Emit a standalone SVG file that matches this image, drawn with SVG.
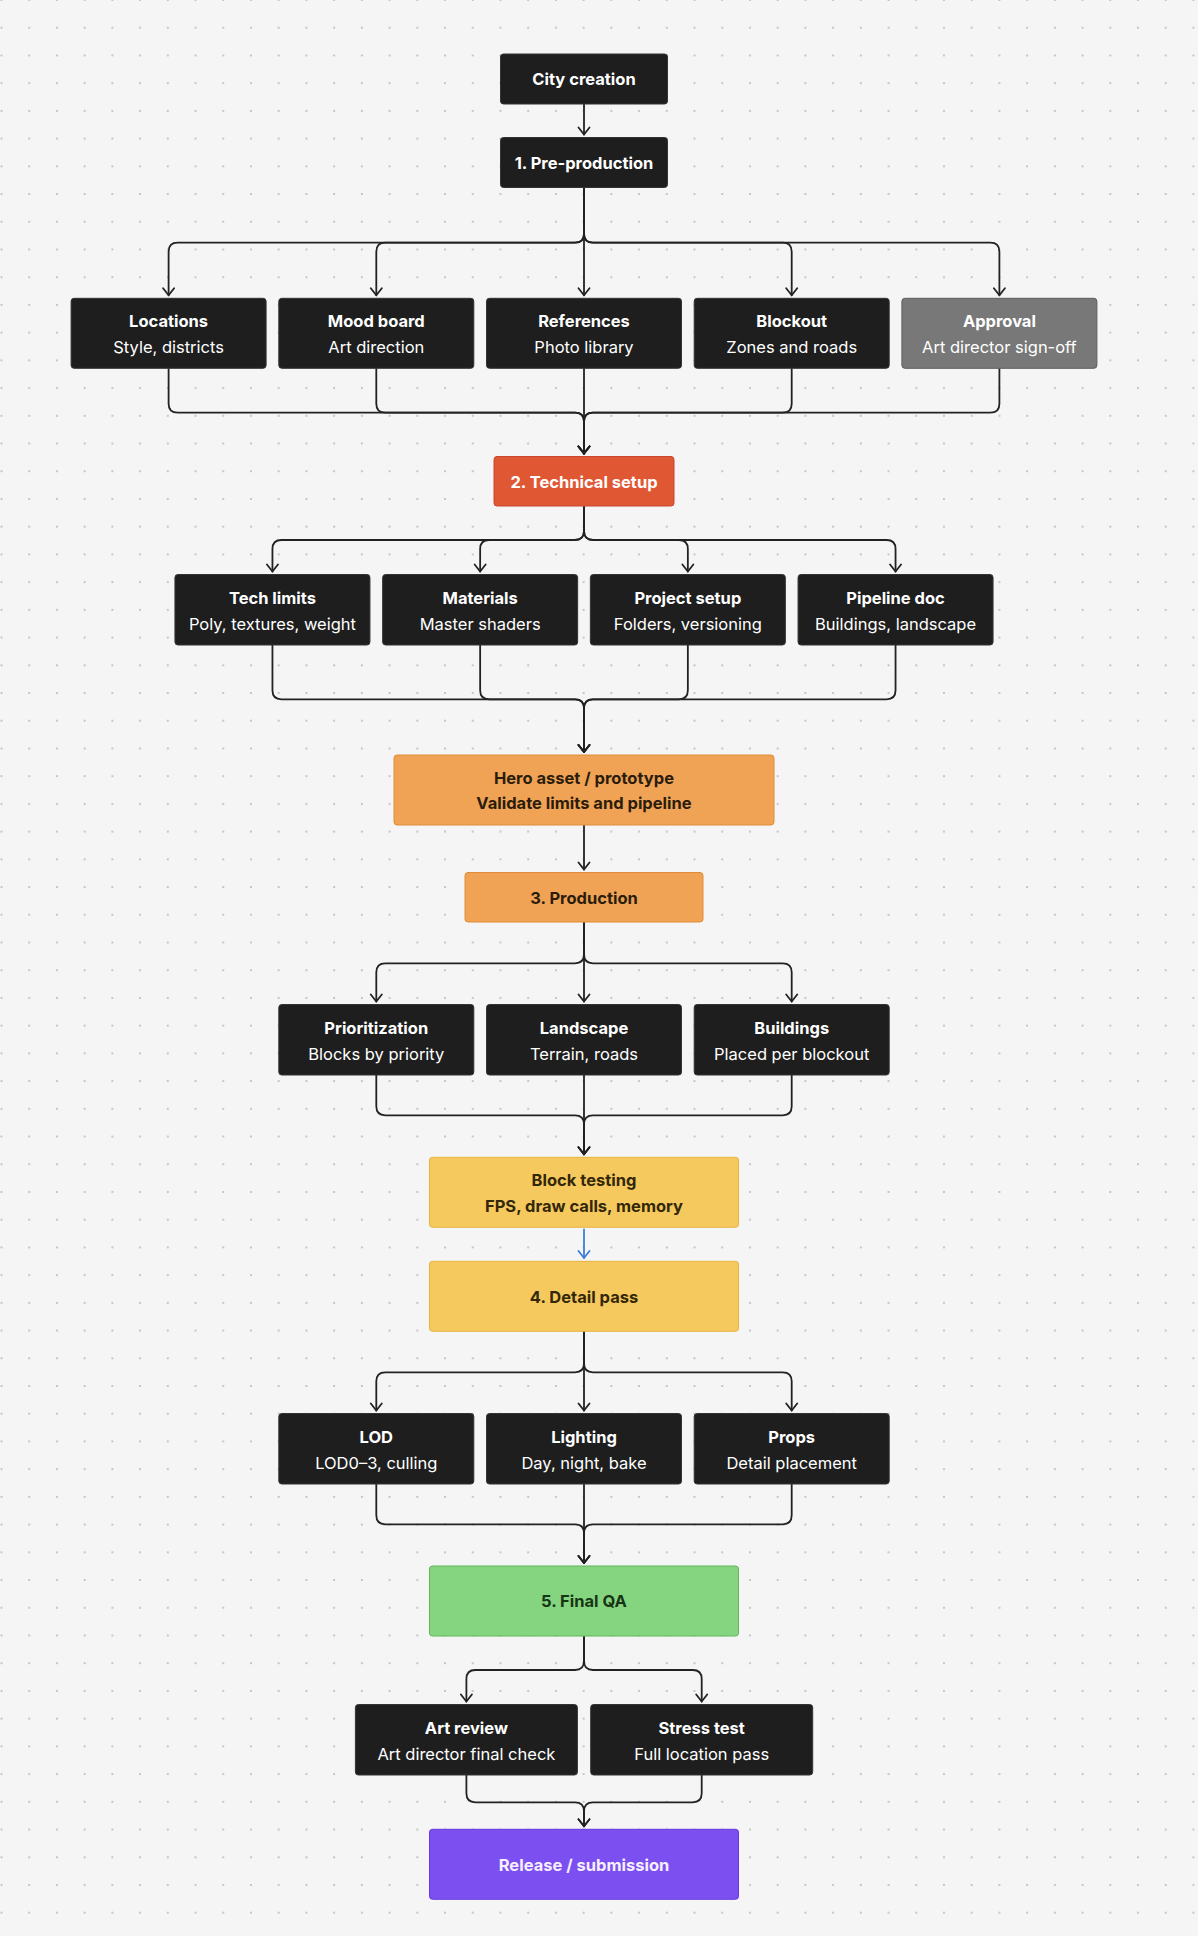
<svg xmlns="http://www.w3.org/2000/svg" width="1198" height="1936" viewBox="0 0 1198 1936">
<defs>
<pattern id="dots" x="-12.35" y="-13.86" width="27.72" height="27.72" patternUnits="userSpaceOnUse">
<circle cx="13.86" cy="13.86" r="1.1" fill="#bcbcbc"/>
</pattern>
<marker id="arr" viewBox="-9 -7 11 14" refX="0" refY="0" markerWidth="11" markerHeight="14" orient="auto" markerUnits="userSpaceOnUse">
<path d="M-7,-5.5 L0,0 L-7,5.5" fill="none" stroke="#222" stroke-width="1.8" stroke-linecap="round" stroke-linejoin="round"/>
</marker>
<marker id="arrb" viewBox="-9 -7 11 14" refX="0" refY="0" markerWidth="11" markerHeight="14" orient="auto" markerUnits="userSpaceOnUse">
<path d="M-7,-5.5 L0,0 L-7,5.5" fill="none" stroke="#3d7fd6" stroke-width="1.8" stroke-linecap="round" stroke-linejoin="round"/>
</marker>
</defs>
<style>
.bg{fill:#f5f5f5}
.dark{fill:#1e1e1e;stroke:#333;stroke-width:1}
.grey{fill:#787878;stroke:#5c5c5c;stroke-width:1}
.red{fill:#e05734;stroke:#c8472a;stroke-width:1}
.orange{fill:#f0a354;stroke:#e08c3a;stroke-width:1}
.yellow{fill:#f6c95e;stroke:#e6b443;stroke-width:1}
.green{fill:#85d47f;stroke:#62b65c;stroke-width:1}
.purple{fill:#7c50f0;stroke:#6638dc;stroke-width:1}
text{font-family:Inter,"Liberation Sans",sans-serif;font-size:16.5px;text-anchor:middle}
.t{font-weight:700}
.s{font-weight:400}
.w{fill:#ffffff}
.dk{fill:#2b1c0c}
.dy{fill:#33270a}
.dg{fill:#173416}
.lp{fill:#f6efff}
.c{fill:none;stroke:#222;stroke-width:1.8;stroke-linecap:round;marker-end:url(#arr)}
.cb{fill:none;stroke:#3d7fd6;stroke-width:1.8;stroke-linecap:round;marker-end:url(#arrb)}
</style>
<rect class="bg" x="0" y="0" width="1198" height="1936"/>
<rect x="0" y="0" width="1198" height="1936" fill="url(#dots)"/>

<g id="connectors">
<path class="c" d="M584 104.5 V134.5"/>
<!-- pre-production branch -->
<path class="c" d="M584 187.5 V233.7 Q584 242.7 575 242.7 H177.6 Q168.6 242.7 168.6 251.7 V295.3"/>
<path class="c" d="M584 187.5 V233.7 Q584 242.7 575 242.7 H385.3 Q376.3 242.7 376.3 251.7 V295.3"/>
<path class="c" d="M584 187.5 V295.3"/>
<path class="c" d="M584 187.5 V233.7 Q584 242.7 593 242.7 H782.7 Q791.7 242.7 791.7 251.7 V295.3"/>
<path class="c" d="M584 187.5 V233.7 Q584 242.7 593 242.7 H990.4 Q999.4 242.7 999.4 251.7 V295.3"/>
<!-- merge to technical setup -->
<path class="c" d="M168.6 368.8 V403.7 Q168.6 412.7 177.6 412.7 H575 Q584 412.7 584 421.7 V453.5"/>
<path class="c" d="M376.3 368.8 V403.7 Q376.3 412.7 385.3 412.7 H575 Q584 412.7 584 421.7 V453.5"/>
<path class="c" d="M584 368.8 V453.5"/>
<path class="c" d="M791.7 368.8 V403.7 Q791.7 412.7 782.7 412.7 H593 Q584 412.7 584 421.7 V453.5"/>
<path class="c" d="M999.4 368.8 V403.7 Q999.4 412.7 990.4 412.7 H593 Q584 412.7 584 421.7 V453.5"/>
<!-- technical setup branch -->
<path class="c" d="M584 506 V531 Q584 540 575 540 H281.45 Q272.45 540 272.45 549 V571.5"/>
<path class="c" d="M584 506 V531 Q584 540 575 540 H489.15 Q480.15 540 480.15 549 V571.5"/>
<path class="c" d="M584 506 V531 Q584 540 593 540 H678.85 Q687.85 540 687.85 549 V571.5"/>
<path class="c" d="M584 506 V531 Q584 540 593 540 H886.55 Q895.55 540 895.55 549 V571.5"/>
<!-- merge to hero -->
<path class="c" d="M272.45 645 V690.3 Q272.45 699.3 281.45 699.3 H575 Q584 699.3 584 708.3 V752"/>
<path class="c" d="M480.15 645 V690.3 Q480.15 699.3 489.15 699.3 H575 Q584 699.3 584 708.3 V752"/>
<path class="c" d="M687.85 645 V690.3 Q687.85 699.3 678.85 699.3 H593 Q584 699.3 584 708.3 V752"/>
<path class="c" d="M895.55 645 V690.3 Q895.55 699.3 886.55 699.3 H593 Q584 699.3 584 708.3 V752"/>
<!-- hero to production -->
<path class="c" d="M584 825.5 V869.5"/>
<!-- production branch -->
<path class="c" d="M584 922 V954.3 Q584 963.3 575 963.3 H385.3 Q376.3 963.3 376.3 972.3 V1001.5"/>
<path class="c" d="M584 922 V1001.5"/>
<path class="c" d="M584 922 V954.3 Q584 963.3 593 963.3 H782.7 Q791.7 963.3 791.7 972.3 V1001.5"/>
<!-- merge to block testing -->
<path class="c" d="M376.3 1075 V1106.3 Q376.3 1115.3 385.3 1115.3 H575 Q584 1115.3 584 1124.3 V1154.3"/>
<path class="c" d="M584 1075 V1154.3"/>
<path class="c" d="M791.7 1075 V1106.3 Q791.7 1115.3 782.7 1115.3 H593 Q584 1115.3 584 1124.3 V1154.3"/>
<!-- block testing to detail pass -->
<path class="cb" d="M584 1229.5 V1258"/>
<!-- detail pass branch -->
<path class="c" d="M584 1331.3 V1363.3 Q584 1372.3 575 1372.3 H385.3 Q376.3 1372.3 376.3 1381.3 V1410.5"/>
<path class="c" d="M584 1331.3 V1410.5"/>
<path class="c" d="M584 1331.3 V1363.3 Q584 1372.3 593 1372.3 H782.7 Q791.7 1372.3 791.7 1381.3 V1410.5"/>
<!-- merge to final QA -->
<path class="c" d="M376.3 1484 V1515.3 Q376.3 1524.3 385.3 1524.3 H575 Q584 1524.3 584 1533.3 V1563"/>
<path class="c" d="M584 1484 V1563"/>
<path class="c" d="M791.7 1484 V1515.3 Q791.7 1524.3 782.7 1524.3 H593 Q584 1524.3 584 1533.3 V1563"/>
<!-- final QA branch -->
<path class="c" d="M584 1636 V1661 Q584 1670 575 1670 H475.4 Q466.4 1670 466.4 1679 V1701.5"/>
<path class="c" d="M584 1636 V1661 Q584 1670 593 1670 H692.7 Q701.7 1670 701.7 1679 V1701.5"/>
<!-- merge to release -->
<path class="c" d="M466.4 1775 V1793.3 Q466.4 1802.3 475.4 1802.3 H575 Q584 1802.3 584 1811.3 V1826.3"/>
<path class="c" d="M701.7 1775 V1793.3 Q701.7 1802.3 692.7 1802.3 H593 Q584 1802.3 584 1811.3 V1826.3"/>
</g>

<g id="city-creation"><rect class="dark" x="500.5" y="54" width="167" height="50" rx="3"/><text class="t w" x="584" y="85">City creation</text></g>
<g id="pre-production"><rect class="dark" x="500.5" y="137.5" width="167" height="50" rx="3"/><text class="t w" x="584" y="168.5">1. Pre-production</text></g>

<g id="locations"><rect class="dark" x="71.1" y="298.3" width="195" height="70" rx="3"/><text class="t w" x="168.6" y="327.3">Locations</text><text class="s w" x="168.6" y="353.3">Style, districts</text></g>
<g id="mood-board"><rect class="dark" x="278.8" y="298.3" width="195" height="70" rx="3"/><text class="t w" x="376.3" y="327.3">Mood board</text><text class="s w" x="376.3" y="353.3">Art direction</text></g>
<g id="references"><rect class="dark" x="486.5" y="298.3" width="195" height="70" rx="3"/><text class="t w" x="584" y="327.3">References</text><text class="s w" x="584" y="353.3">Photo library</text></g>
<g id="blockout"><rect class="dark" x="694.2" y="298.3" width="195" height="70" rx="3"/><text class="t w" x="791.7" y="327.3">Blockout</text><text class="s w" x="791.7" y="353.3">Zones and roads</text></g>
<g id="approval"><rect class="grey" x="901.9" y="298.3" width="195" height="70" rx="3"/><text class="t w" x="999.4" y="327.3">Approval</text><text class="s w" x="999.4" y="353.3">Art director sign-off</text></g>

<g id="technical-setup"><rect class="red" x="494" y="456.5" width="180" height="49.5" rx="3"/><text class="t w" x="584" y="487.5">2. Technical setup</text></g>

<g id="tech-limits"><rect class="dark" x="174.95" y="574.5" width="195" height="70.5" rx="3"/><text class="t w" x="272.45" y="603.5">Tech limits</text><text class="s w" x="272.45" y="629.5">Poly, textures, weight</text></g>
<g id="materials"><rect class="dark" x="382.65" y="574.5" width="195" height="70.5" rx="3"/><text class="t w" x="480.15" y="603.5">Materials</text><text class="s w" x="480.15" y="629.5">Master shaders</text></g>
<g id="project-setup"><rect class="dark" x="590.35" y="574.5" width="195" height="70.5" rx="3"/><text class="t w" x="687.85" y="603.5">Project setup</text><text class="s w" x="687.85" y="629.5">Folders, versioning</text></g>
<g id="pipeline-doc"><rect class="dark" x="798.05" y="574.5" width="195" height="70.5" rx="3"/><text class="t w" x="895.55" y="603.5">Pipeline doc</text><text class="s w" x="895.55" y="629.5">Buildings, landscape</text></g>

<g id="hero-asset"><rect class="orange" x="394" y="755" width="380" height="70" rx="3"/><text class="t dk" x="584" y="783.5">Hero asset / prototype</text><text class="t dk" x="584" y="809">Validate limits and pipeline</text></g>
<g id="production"><rect class="orange" x="465" y="872.5" width="238" height="49.5" rx="3"/><text class="t dk" x="584" y="903.5">3. Production</text></g>

<g id="prioritization"><rect class="dark" x="278.8" y="1004.5" width="195" height="70.5" rx="3"/><text class="t w" x="376.3" y="1033.5">Prioritization</text><text class="s w" x="376.3" y="1059.5">Blocks by priority</text></g>
<g id="landscape"><rect class="dark" x="486.5" y="1004.5" width="195" height="70.5" rx="3"/><text class="t w" x="584" y="1033.5">Landscape</text><text class="s w" x="584" y="1059.5">Terrain, roads</text></g>
<g id="buildings"><rect class="dark" x="694.2" y="1004.5" width="195" height="70.5" rx="3"/><text class="t w" x="791.7" y="1033.5">Buildings</text><text class="s w" x="791.7" y="1059.5">Placed per blockout</text></g>

<g id="block-testing"><rect class="yellow" x="429.5" y="1157.3" width="309" height="70" rx="3"/><text class="t dy" x="584" y="1186">Block testing</text><text class="t dy" x="584" y="1212">FPS, draw calls, memory</text></g>
<g id="detail-pass"><rect class="yellow" x="429.5" y="1261.3" width="309" height="70" rx="3"/><text class="t dy" x="584" y="1302.5">4. Detail pass</text></g>

<g id="lod"><rect class="dark" x="278.8" y="1413.5" width="195" height="70.5" rx="3"/><text class="t w" x="376.3" y="1442.5">LOD</text><text class="s w" x="376.3" y="1468.5">LOD0–3, culling</text></g>
<g id="lighting"><rect class="dark" x="486.5" y="1413.5" width="195" height="70.5" rx="3"/><text class="t w" x="584" y="1442.5">Lighting</text><text class="s w" x="584" y="1468.5">Day, night, bake</text></g>
<g id="props"><rect class="dark" x="694.2" y="1413.5" width="195" height="70.5" rx="3"/><text class="t w" x="791.7" y="1442.5">Props</text><text class="s w" x="791.7" y="1468.5">Detail placement</text></g>

<g id="final-qa"><rect class="green" x="429.5" y="1566" width="309" height="70" rx="3"/><text class="t dg" x="584" y="1607">5. Final QA</text></g>

<g id="art-review"><rect class="dark" x="355.4" y="1704.5" width="222" height="70.5" rx="3"/><text class="t w" x="466.4" y="1733.5">Art review</text><text class="s w" x="466.4" y="1759.5">Art director final check</text></g>
<g id="stress-test"><rect class="dark" x="590.7" y="1704.5" width="222" height="70.5" rx="3"/><text class="t w" x="701.7" y="1733.5">Stress test</text><text class="s w" x="701.7" y="1759.5">Full location pass</text></g>

<g id="release"><rect class="purple" x="429.5" y="1829.3" width="309" height="70" rx="3"/><text class="t lp" x="584" y="1870.5">Release / submission</text></g>
</svg>
